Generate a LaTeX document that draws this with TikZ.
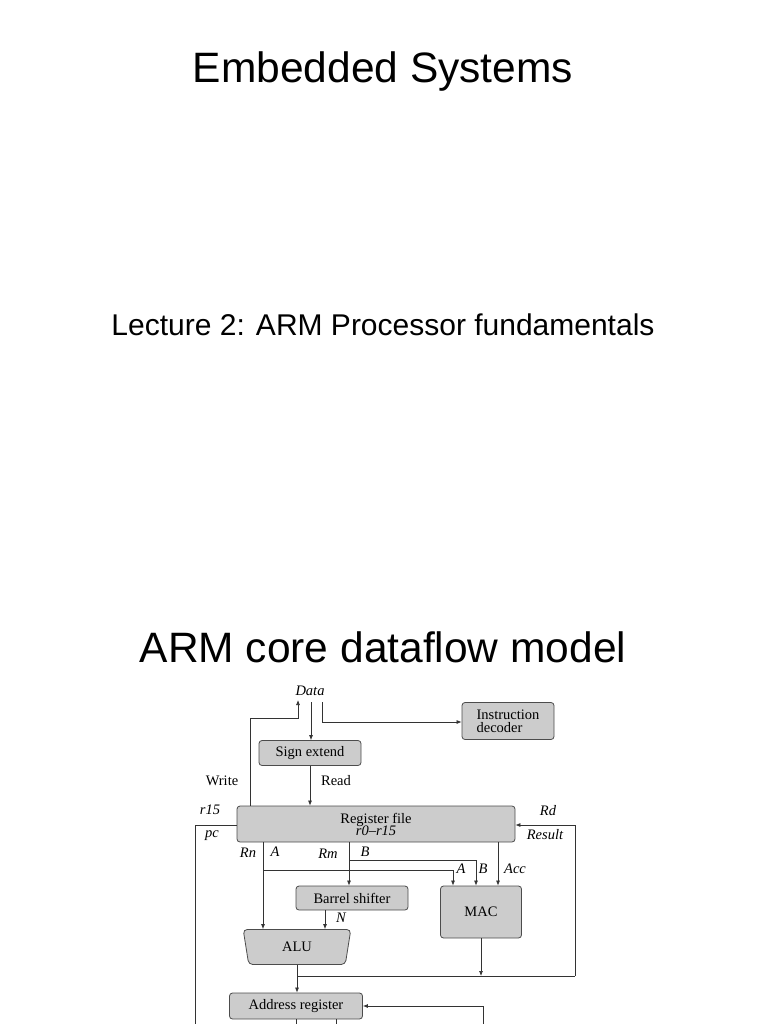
\documentclass[tikz,border=0pt]{standalone}
\usepackage{fontspec}
\setmainfont{Liberation Sans}
\newfontfamily\diagfont{Liberation Serif}
\usetikzlibrary{shapes.geometric,arrows.meta}
\tikzset{
  blk/.style={rectangle, draw=black!70, fill=black!20, rounded corners=3pt, line width=0.8pt, font=\diagfont\fontsize{14.5}{15}\selectfont, inner sep=0pt, align=center},
  lbl/.style={font=\diagfont\fontsize{14.5}{15}\selectfont, inner sep=0pt},
  ilbl/.style={font=\diagfont\itshape\fontsize{14.5}{15}\selectfont, inner sep=0pt},
  conn/.style={line width=0.7pt, draw=black!80},
  arr/.style={conn, -{Latex[length=5pt,width=4pt]}},
  ttl/.style={font=\fontsize{42.5}{48}\selectfont, inner sep=0pt}
}
\begin{document}
\begin{tikzpicture}[x=1pt,y=-1pt]
\useasboundingbox (0,0) rectangle (768,1024);
%Titles
\node[ttl] (t1) at (383,72){Embedded Systems};
\node[font=\fontsize{30}{34}\selectfont, inner sep=0pt] (t2) at (383,325){Lecture 2: ARM Processor fundamentals};
\node[ttl] (t3) at (383,647){ARM core dataflow model};
%Blocks
\node[blk, minimum width=102, minimum height=25] (sx) at (310,753){Sign extend};
\node[blk, minimum width=92, minimum height=37, align=left] (id) at (508,721){Instruction\\[-2pt]decoder};
\node[blk, minimum width=278, minimum height=36] (rf) at (376,824){Register file\\[-3pt]{\itshape r0\textendash r15}};
\node[blk, minimum width=112, minimum height=24] (bs) at (352,898){Barrel shifter};
\node[blk, minimum width=81, minimum height=52] (mac) at (481,912){MAC};
\node[blk, trapezium, shape border rotate=180, trapezium stretches=true, trapezium left angle=80, trapezium right angle=80, minimum width=108, minimum height=35, rounded corners=4pt] (alu) at (297,947){ALU};
\node[blk, minimum width=133, minimum height=26] (ar) at (296,1006){Address register};
%Labels
\node[ilbl] (ldata) at (310,691){Data};
\node[lbl] (lwr) at (222,781){Write};
\node[lbl] (lrd) at (336,781){Read};
\node[ilbl] (lr15) at (210,810){r15};
\node[ilbl] (lpc) at (212,836){pc};
\node[ilbl] (lRd) at (548,811){Rd};
\node[ilbl] (lres) at (545,835){Result};
\node[ilbl] (lRn) at (248,853){Rn};
\node[ilbl] (lA) at (275,852){A};
\node[ilbl] (lRm) at (328,854){Rm};
\node[ilbl] (lB) at (365,852){B};
\node[ilbl] (lA2) at (461,869){A};
\node[ilbl] (lB2) at (483,869){B};
\node[ilbl] (lacc) at (515,869){Acc};
\node[ilbl] (lN) at (341,918){N};
%Coordinates
\coordinate (dtop) at (298,700);
\coordinate (pcb) at (195,1024);
\coordinate (jA) at (263,870);
\coordinate (jB) at (349,860);
\coordinate (jres) at (297,976);
\coordinate (ab1) at (296,1024);
\coordinate (ab2) at (336,1024);
\coordinate (ain) at (483,1024);
%Connectors
\draw[arr] (rf.north -| 250,0) |- (298,718) -- (dtop);
\draw[arr] (311,702) -- (sx.north -| 311,0);
\draw[arr] (322,702) |- (id.west |- 0,722);
\draw[arr] (sx.south) -- (rf.north -| sx.south);
\draw[conn] (rf.west |- 0,825) -| (pcb);
\draw[arr] (jres -| 575,0) |- (rf.east |- 0,825);
\draw[arr] (rf.south -| jA) -- (alu.north -| jA);
\draw[arr] (jA) -| (mac.north -| 453,0);
\draw[arr] (rf.south -| jB) -- (bs.north -| jB);
\draw[arr] (jB) -| (mac.north -| 476,0);
\draw[arr] (rf.south -| 498,0) -- (mac.north -| 498,0);
\draw[arr] (bs.south -| 325,0) -- (alu.north -| 325,0);
\draw[arr] (alu.south) -- (ar.north -| alu.south);
\draw[conn] (jres) -- (jres -| 575,0);
\draw[arr] (mac.south) -- (mac.south |- jres);
\draw[arr] (ain) |- (ar.east);
\draw[conn] (ar.south -| ab1) -- (ab1);
\draw[conn] (ar.south -| ab2) -- (ab2);
\end{tikzpicture}
\end{document}
